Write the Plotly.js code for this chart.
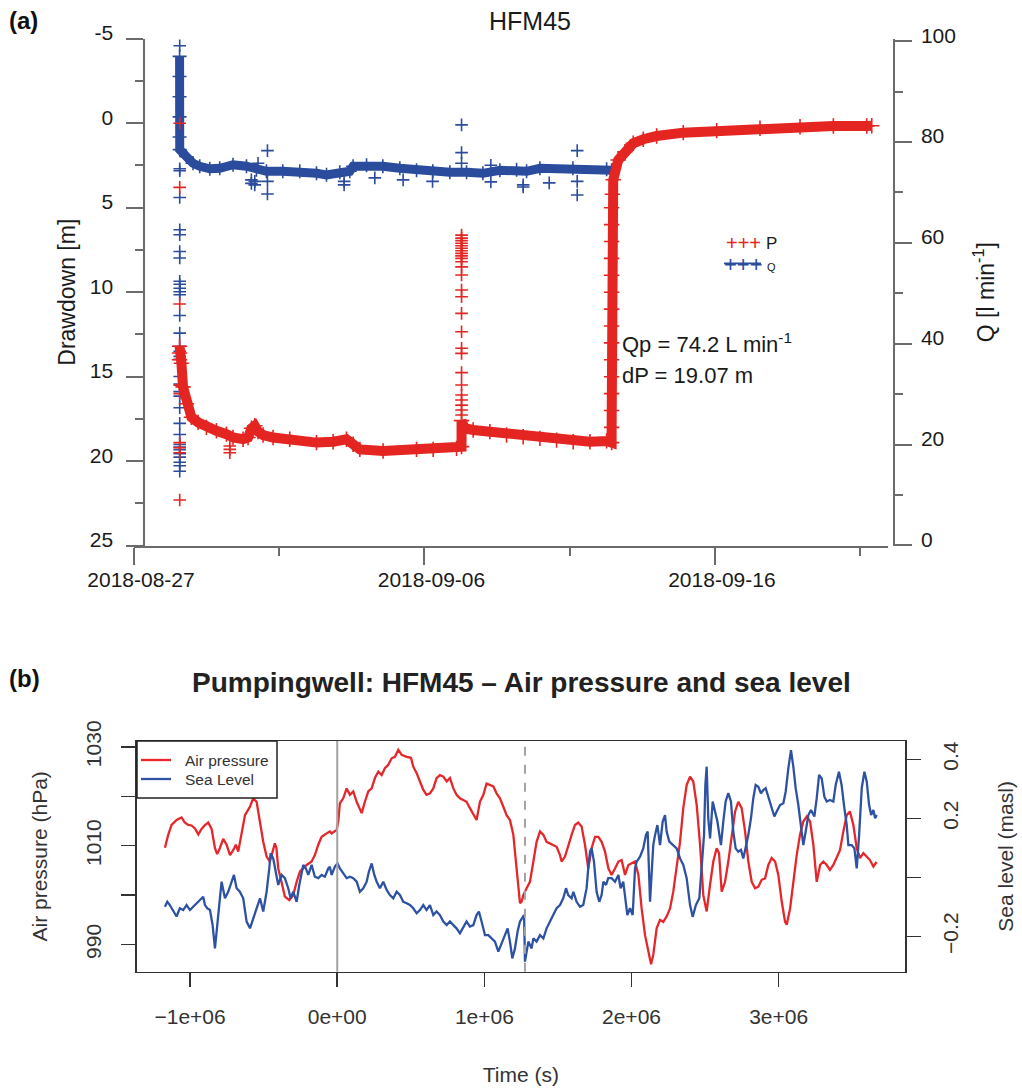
<!DOCTYPE html>
<html>
<head>
<meta charset="utf-8">
<script src="https://cdn.plot.ly/plotly-3.0.1.min.js"></script>
<style>html,body{margin:0;padding:0;background:#fff;}#chart{width:1022px;height:1090px;}</style>
</head>
<body>
<div id="chart"></div>
<script>
// ---------------- Panel (a): HFM45 drawdown (P) and flow (Q) ----------------
const majorDates = ['2018-08-27', '2018-09-06', '2018-09-16'];
const minorDates = ['2018-09-01', '2018-09-11', '2018-09-21'];
const drawdownTicks = [-5, 0, 5, 10, 15, 20, 25];
const drawdownTickText = ['-5', '0', '5', '10', '15', '20', '25'];
const flowTicks = [0, 20, 40, 60, 80, 100];

// Q (flow) main band
const qTime = ['2018-08-28 13:40','2018-08-28 13:40','2018-08-28 13:40','2018-08-28 13:40','2018-08-28 13:40','2018-08-28 13:47','2018-08-28 19:19','2018-08-29 00:46','2018-08-29 06:19','2018-08-29 14:36','2018-08-29 22:51','2018-08-30 09:50','2018-08-30 20:56','2018-08-31 05:11','2018-08-31 13:28','2018-09-01 02:56','2018-09-01 16:59','2018-09-02 06:48','2018-09-02 15:04','2018-09-03 02:04','2018-09-03 10:19','2018-09-03 13:03','2018-09-04 00:09','2018-09-04 13:36','2018-09-05 03:40','2018-09-05 17:28','2018-09-06 06:56','2018-09-06 21:00','2018-09-07 10:48','2018-09-08 00:17','2018-09-08 14:20','2018-09-09 04:08','2018-09-09 12:24','2018-09-09 23:24','2018-09-11 02:41','2018-09-12 06:33','2018-09-12 10:41'];
const qFlow = [97.0, 93.0, 89.0, 85.0, 81.0, 78.5, 77.1, 75.8, 75.2, 74.7, 74.8, 75.5, 75.2, 74.5, 74.2, 74.2, 74.2, 73.8, 73.5, 74.0, 74.2, 75.2, 75.4, 75.2, 74.8, 74.4, 74.2, 74.0, 74.0, 73.8, 74.4, 74.5, 74.2, 74.8, 74.8, 74.6, 74.4];

// Q outliers
const qOutTime = ['2018-08-28 13:47','2018-08-28 13:47','2018-08-28 13:47','2018-08-28 13:47','2018-08-28 13:47','2018-08-28 13:47','2018-08-28 13:47','2018-08-28 13:47','2018-08-28 13:47','2018-08-28 13:47','2018-08-28 13:47','2018-08-28 13:47','2018-08-28 13:47','2018-08-28 13:47','2018-08-28 13:47','2018-08-28 13:47','2018-08-28 13:47','2018-08-28 13:47','2018-08-28 13:47','2018-08-28 13:47','2018-08-28 13:47','2018-08-28 13:47','2018-08-28 13:47','2018-08-28 13:47','2018-08-28 13:47','2018-08-28 13:47','2018-08-28 13:47','2018-08-28 13:47','2018-08-28 13:47','2018-08-28 13:47','2018-08-28 13:47','2018-08-28 13:47','2018-08-28 13:47','2018-08-28 13:47',
  '2018-08-31 06:30','2018-08-31 03:47','2018-08-31 03:47','2018-08-31 01:00','2018-08-31 01:00','2018-08-31 14:17','2018-08-31 14:17','2018-08-31 14:17','2018-09-03 05:37','2018-09-03 05:37','2018-09-04 07:00','2018-09-05 06:23','2018-09-06 06:42','2018-09-07 06:40','2018-09-07 06:40','2018-09-07 06:40','2018-09-08 06:53','2018-09-08 06:53','2018-09-09 09:36','2018-09-09 09:36','2018-09-10 07:06','2018-09-11 06:14','2018-09-11 06:14','2018-09-11 06:14'];
const qOutFlow = [99.1, 74.7, 74.3, 69.0, 62.6, 61.6, 58.3, 57.0, 52.4, 51.8, 51.0, 50.3, 49.7, 45.6, 42.1, 39.5, 38.5, 37.5, 36.9, 33.5, 32.0, 30.5, 29.6, 27.3, 24.2, 22.0, 20.0, 19.5, 19.0, 18.2, 17.5, 16.5, 15.8, 14.7,
  75.8, 72.2, 71.5, 72.5, 71.8, 78.3, 72.2, 69.7, 72.2, 71.5, 72.9, 72.5, 72.2, 83.4, 77.9, 75.8, 75.4, 72.1, 71.5, 71.1, 71.9, 78.3, 72.2, 69.5];

// P (drawdown) main band
const pTime = ['2018-08-28 13:40','2018-08-28 13:40','2018-08-28 13:40','2018-08-28 15:11','2018-08-28 16:31','2018-08-28 19:19','2018-08-28 23:27','2018-08-29 04:55','2018-08-29 11:51','2018-08-29 20:07','2018-08-30 04:23','2018-08-30 09:50','2018-08-30 18:07','2018-08-30 22:15','2018-08-31 01:03','2018-08-31 03:47','2018-08-31 06:30','2018-08-31 10:39','2018-08-31 18:55','2018-09-01 08:43','2018-09-02 06:48','2018-09-02 20:31','2018-09-03 07:36','2018-09-03 13:03','2018-09-03 18:36','2018-09-04 13:51','2018-09-05 17:28','2018-09-06 07:12','2018-09-07 02:33','2018-09-07 06:40','2018-09-07 06:40','2018-09-07 09:24','2018-09-07 16:16','2018-09-08 06:04','2018-09-08 19:52','2018-09-09 09:36','2018-09-09 23:24','2018-09-10 13:12','2018-09-11 02:56','2018-09-11 16:45','2018-09-12 06:33','2018-09-12 10:41',
  '2018-09-12 10:41','2018-09-12 10:41','2018-09-12 10:41','2018-09-12 10:41','2018-09-12 10:41','2018-09-12 10:41','2018-09-12 10:41','2018-09-12 10:41','2018-09-12 10:41','2018-09-12 10:41','2018-09-12 10:41','2018-09-12 10:41','2018-09-12 10:41','2018-09-12 10:41',
  '2018-09-12 11:20','2018-09-12 12:00','2018-09-12 16:08','2018-09-12 21:40','2018-09-13 04:32','2018-09-13 12:49','2018-09-13 23:53','2018-09-14 21:52','2018-09-16 01:29','2018-09-17 13:17','2018-09-18 22:22','2018-09-20 01:54','2018-09-21 05:30','2018-09-21 09:37'];
const pDraw = [13.2, 13.6, 14.0, 14.2, 15.6, 16.6, 17.4, 17.7, 18.0, 18.2, 18.4, 18.6, 18.7, 18.6, 18.05, 17.9, 18.25, 18.45, 18.6, 18.7, 18.9, 18.85, 18.7, 19.0, 19.3, 19.4, 19.3, 19.3, 19.24, 19.14, 17.6, 18.05, 18.15, 18.25, 18.45, 18.55, 18.65, 18.75, 18.85, 18.85, 18.8, 18.9,
  18.0, 17.0, 16.0, 15.0, 14.0, 13.0, 12.0, 11.0, 10.0, 9.0, 8.0, 7.0, 6.0, 5.0,
  4.2, 3.35, 2.18, 1.69, 1.19, 0.95, 0.76, 0.56, 0.44, 0.30, 0.21, 0.17, 0.17, 0.15];

// P outliers (incl. spike on 2018-09-07)
const pOutTime = ['2018-08-28 13:47','2018-08-28 13:47','2018-08-28 13:47','2018-08-28 13:47','2018-08-28 13:47','2018-08-28 13:47','2018-08-28 13:47','2018-08-28 13:47','2018-08-28 13:47',
  '2018-08-30 07:08','2018-08-30 07:08','2018-08-30 07:08',
  '2018-09-07 06:40','2018-09-07 06:40','2018-09-07 06:40','2018-09-07 06:40','2018-09-07 06:40','2018-09-07 06:40','2018-09-07 06:40','2018-09-07 06:40','2018-09-07 06:40','2018-09-07 06:40','2018-09-07 06:40','2018-09-07 06:40','2018-09-07 06:40','2018-09-07 06:40','2018-09-07 06:40','2018-09-07 06:40','2018-09-07 06:40','2018-09-07 06:40','2018-09-07 06:40','2018-09-07 06:40','2018-09-07 06:40','2018-09-07 06:40','2018-09-07 06:40','2018-09-07 06:40','2018-09-07 06:40','2018-09-07 06:40'];
const pOutDraw = [0.0, 3.8, 10.7, 15.5, 16.0, 18.9, 19.2, 19.5, 22.3,
  19.1, 19.3, 19.5,
  6.62, 6.8, 6.95, 7.1, 7.25, 7.4, 7.55, 7.7, 7.85, 8.0, 8.2, 8.5, 8.98, 9.87, 10.27, 11.25, 12.34, 13.32, 13.62, 14.76, 15.49, 16.08, 16.38, 16.68, 16.97, 17.27];

// ---------------- Panel (b): air pressure and sea level ----------------
const timeTicks = [-1e6, 0, 1e6, 2e6, 3e6];
const timeTickText = ['\u22121e+06', '0e+00', '1e+06', '2e+06', '3e+06'];
const pressTicks = [990, 1010, 1030];
const seaTicks = [-0.2, 0.2, 0.4];
const seaTickText = ['\u22120.2', '0.2', '0.4'];
const eventTimes = [0, 1.276e6];
const legendNames = ['Air pressure', 'Sea Level'];

const airTime = [-1.171e6,-1.149e6,-1.126e6,-1.092e6,-1.058e6,-1.036e6,-1.013e6,-0.990e6,-0.967e6,-0.944e6,-0.922e6,-0.899e6,-0.877e6,-0.854e6,-0.831e6,-0.816e6,-0.798e6,-0.775e6,-0.752e6,-0.729e6,-0.707e6,-0.689e6,-0.673e6,-0.650e6,-0.627e6,-0.593e6,-0.571e6,-0.548e6,-0.525e6,-0.503e6,-0.480e6,-0.458e6,-0.439e6,-0.424e6,-0.413e6,-0.401e6,-0.379e6,-0.356e6,-0.326e6,-0.299e6,-0.276e6,-0.253e6,-0.231e6,-0.208e6,-0.174e6,-0.152e6,-0.129e6,-0.106e6,-0.072e6,-0.050e6,-0.038e6,-0.004e6,
  0.007e6,0.018e6,0.041e6,0.064e6,0.086e6,0.109e6,0.132e6,0.166e6,0.188e6,0.211e6,0.234e6,0.256e6,0.279e6,0.302e6,0.324e6,0.347e6,0.370e6,0.392e6,0.415e6,0.438e6,0.472e6,0.501e6,0.517e6,0.540e6,0.562e6,0.585e6,0.607e6,0.630e6,0.653e6,0.675e6,0.698e6,0.721e6,0.744e6,0.766e6,0.789e6,0.811e6,0.834e6,0.857e6,0.879e6,0.902e6,0.925e6,0.947e6,0.970e6,0.993e6,1.015e6,1.038e6,1.061e6,1.083e6,1.106e6,1.129e6,1.151e6,1.174e6,1.197e6,1.219e6,1.231e6,1.242e6,1.253e6,
  1.265e6,1.287e6,1.310e6,1.333e6,1.355e6,1.378e6,1.401e6,1.423e6,1.446e6,1.469e6,1.491e6,1.514e6,1.525e6,1.548e6,1.570e6,1.593e6,1.616e6,1.638e6,1.661e6,1.684e6,1.706e6,1.729e6,1.752e6,1.775e6,1.797e6,1.820e6,1.843e6,1.865e6,1.888e6,1.911e6,1.933e6,1.956e6,1.979e6,2.001e6,2.024e6,2.047e6,2.069e6,2.092e6,2.115e6,2.133e6,2.148e6,2.171e6,2.194e6,2.216e6,2.239e6,2.262e6,2.284e6,2.307e6,2.330e6,2.352e6,2.375e6,2.398e6,2.420e6,2.443e6,2.466e6,2.488e6,2.511e6,2.534e6,2.556e6,2.579e6,2.595e6,
  2.613e6,2.636e6,2.658e6,2.681e6,2.704e6,2.726e6,2.749e6,2.772e6,2.794e6,2.817e6,2.840e6,2.862e6,2.885e6,2.908e6,2.930e6,2.953e6,2.976e6,2.998e6,3.021e6,3.044e6,3.055e6,3.078e6,3.100e6,3.123e6,3.145e6,3.168e6,3.191e6,3.214e6,3.236e6,3.259e6,3.282e6,3.304e6,3.327e6,3.349e6,3.372e6,3.395e6,3.417e6,3.440e6,3.463e6,3.485e6,3.508e6,3.531e6,3.553e6,3.576e6,3.599e6,3.621e6,3.644e6,3.666e6];
const airPressure = [1009.6,1012.2,1014.2,1015.2,1015.7,1014.7,1014.2,1014.1,1013.5,1012.3,1013.4,1014.2,1014.7,1013.4,1009.5,1008.3,1009.5,1011.4,1010.2,1008.1,1009.1,1010.2,1008.8,1012.2,1016.2,1017.9,1019.6,1018.9,1014.9,1010.8,1007.8,1006.8,1008.8,1010.5,1009.5,1005.4,1002.7,999.7,999.0,1000.0,1002.7,1004.8,1005.4,1006.1,1006.8,1008.1,1010.2,1011.8,1012.5,1012.9,1012.5,1013.2,
  1014.9,1018.6,1019.6,1021.6,1020.3,1021.0,1018.9,1016.6,1018.9,1021.0,1021.6,1023.7,1025.0,1024.3,1025.7,1026.4,1027.7,1028.0,1029.4,1028.4,1028.0,1027.8,1026.0,1024.7,1023.0,1021.3,1020.3,1020.6,1021.6,1023.7,1024.3,1024.0,1023.0,1023.7,1021.6,1020.3,1019.6,1019.3,1018.9,1017.6,1016.2,1015.2,1018.9,1020.3,1022.6,1022.3,1022.0,1020.6,1019.6,1017.9,1016.2,1015.2,1012.2,1005.4,1001.4,998.4,998.7,
  1000.0,1001.4,1002.7,1006.8,1010.8,1012.9,1012.2,1010.8,1010.5,1010.2,1009.8,1008.1,1006.8,1007.8,1010.2,1012.2,1014.2,1014.7,1013.9,1010.2,1005.4,1009.5,1011.8,1011.8,1010.8,1008.8,1005.4,1004.1,1005.4,1006.8,1007.1,1004.1,1006.1,1006.5,1006.8,1004.1,997.3,991.9,988.6,986.0,987.9,993.3,995.0,994.6,995.7,997.3,1000.7,1005.4,1010.8,1017.6,1022.3,1024.0,1023.0,1018.3,1010.2,1000.0,996.7,1002.1,1006.8,1009.5,1008.5,
  1000.7,1002.7,1006.8,1012.2,1016.9,1018.9,1017.6,1012.9,1006.8,1002.7,1001.4,1001.7,1003.1,1003.4,1006.1,1007.5,1006.8,1004.1,998.7,994.6,994.0,997.3,1002.7,1008.1,1012.2,1014.9,1015.9,1014.9,1010.2,1002.7,1006.1,1006.8,1006.1,1005.1,1006.1,1007.5,1009.1,1012.9,1016.2,1016.9,1014.2,1009.5,1007.5,1008.5,1007.8,1007.1,1005.8,1006.7];

const seaTime = [-1.171e6,-1.155e6,-1.138e6,-1.115e6,-1.092e6,-1.070e6,-1.047e6,-1.024e6,-1.001e6,-0.979e6,-0.956e6,-0.933e6,-0.911e6,-0.899e6,-0.884e6,-0.865e6,-0.847e6,-0.831e6,-0.816e6,-0.802e6,-0.786e6,-0.763e6,-0.741e6,-0.718e6,-0.702e6,-0.684e6,-0.662e6,-0.639e6,-0.616e6,-0.593e6,-0.571e6,-0.548e6,-0.525e6,-0.503e6,-0.480e6,-0.462e6,-0.453e6,-0.435e6,-0.417e6,-0.401e6,-0.378e6,-0.356e6,-0.333e6,-0.317e6,-0.299e6,-0.276e6,-0.258e6,-0.242e6,-0.231e6,-0.213e6,-0.197e6,-0.174e6,-0.152e6,-0.129e6,-0.106e6,-0.084e6,-0.061e6,-0.050e6,-0.038e6,-0.016e6,
  0.002e6,0.018e6,0.041e6,0.064e6,0.086e6,0.109e6,0.132e6,0.154e6,0.177e6,0.200e6,0.215e6,0.234e6,0.252e6,0.268e6,0.290e6,0.313e6,0.336e6,0.358e6,0.381e6,0.404e6,0.426e6,0.449e6,0.472e6,0.494e6,0.517e6,0.540e6,0.562e6,0.585e6,0.607e6,0.630e6,0.653e6,0.675e6,0.698e6,0.721e6,0.744e6,0.766e6,0.789e6,0.811e6,0.834e6,0.857e6,0.879e6,0.902e6,0.925e6,0.947e6,0.963e6,0.981e6,1.004e6,1.027e6,1.049e6,1.072e6,1.095e6,1.117e6,1.140e6,1.158e6,1.174e6,1.190e6,1.208e6,1.226e6,1.242e6,1.258e6,1.270e6,
  1.276e6,1.299e6,1.321e6,1.333e6,1.355e6,1.378e6,1.401e6,1.423e6,1.446e6,1.469e6,1.491e6,1.514e6,1.536e6,1.555e6,1.570e6,1.593e6,1.605e6,1.627e6,1.650e6,1.672e6,1.695e6,1.706e6,1.718e6,1.729e6,1.745e6,1.763e6,1.781e6,1.797e6,1.809e6,1.827e6,1.842e6,1.865e6,1.888e6,1.911e6,1.926e6,1.944e6,1.962e6,1.972e6,1.990e6,2.008e6,2.024e6,2.035e6,2.058e6,2.080e6,2.098e6,2.110e6,2.126e6,2.137e6,2.148e6,2.160e6,2.176e6,2.194e6,2.212e6,2.228e6,2.239e6,2.257e6,2.280e6,2.307e6,2.330e6,2.352e6,2.375e6,2.398e6,2.416e6,2.438e6,2.461e6,2.477e6,2.493e6,2.502e6,2.511e6,2.522e6,2.534e6,2.552e6,2.568e6,2.584e6,2.601e6,
  2.608e6,2.624e6,2.640e6,2.658e6,2.676e6,2.692e6,2.708e6,2.726e6,2.744e6,2.760e6,2.776e6,2.794e6,2.812e6,2.828e6,2.844e6,2.862e6,2.880e6,2.896e6,2.912e6,2.930e6,2.953e6,2.971e6,2.987e6,3.010e6,3.032e6,3.048e6,3.066e6,3.084e6,3.100e6,3.116e6,3.134e6,3.152e6,3.168e6,3.184e6,3.202e6,3.220e6,3.243e6,3.259e6,3.275e6,3.293e6,3.311e6,3.327e6,3.349e6,3.372e6,3.388e6,3.410e6,3.428e6,3.447e6,3.463e6,3.474e6,3.497e6,3.515e6,3.531e6,3.547e6,3.565e6,3.583e6,3.599e6,3.615e6,3.629e6,3.644e6,3.656e6,3.667e6];
const seaLevel = [-0.100,-0.083,-0.094,-0.116,-0.133,-0.105,-0.111,-0.094,-0.111,-0.100,-0.088,-0.077,-0.066,-0.094,-0.105,-0.111,-0.162,-0.241,-0.150,-0.094,-0.015,-0.071,-0.049,-0.015,0.008,-0.037,-0.049,-0.071,-0.150,-0.173,-0.139,-0.105,-0.071,-0.116,-0.049,0.030,0.081,0.064,0.019,-0.026,0.008,-0.003,-0.037,-0.071,-0.049,-0.083,-0.026,0.019,0.042,0.030,0.008,0.042,0.002,-0.003,0.008,0.002,0.030,0.036,0.008,0.036,
  0.047,0.030,0.013,-0.003,0.002,-0.003,-0.015,-0.049,-0.037,-0.015,0.019,0.047,0.008,-0.015,-0.037,-0.015,-0.043,-0.060,-0.071,-0.049,-0.060,-0.083,-0.088,-0.094,-0.105,-0.122,-0.111,-0.094,-0.111,-0.094,-0.128,-0.116,-0.128,-0.150,-0.162,-0.150,-0.162,-0.173,-0.190,-0.167,-0.150,-0.167,-0.162,-0.128,-0.116,-0.150,-0.196,-0.196,-0.207,-0.218,-0.252,-0.224,-0.196,-0.173,-0.218,-0.275,-0.241,-0.184,-0.150,-0.139,-0.128,
  -0.286,-0.218,-0.241,-0.207,-0.218,-0.196,-0.207,-0.173,-0.150,-0.128,-0.105,-0.094,-0.071,-0.037,-0.060,-0.071,-0.049,-0.083,-0.100,-0.094,-0.037,0.030,0.087,0.098,0.053,-0.049,-0.083,-0.060,-0.015,-0.026,-0.003,-0.003,-0.015,0.008,-0.037,-0.015,-0.083,-0.128,-0.105,-0.128,0.030,0.053,0.070,0.098,0.143,0.155,-0.083,0.030,0.109,0.143,0.177,0.109,0.189,0.211,0.155,0.121,0.109,0.098,0.064,0.042,-0.003,-0.094,-0.134,-0.094,-0.071,0.030,0.143,0.313,0.375,0.200,0.132,0.257,0.223,0.189,0.132,
  0.109,0.189,0.257,0.285,0.257,0.155,0.098,0.087,0.093,0.064,0.098,0.143,0.200,0.268,0.313,0.307,0.285,0.296,0.302,0.273,0.240,0.206,0.223,0.245,0.251,0.290,0.369,0.431,0.375,0.302,0.245,0.177,0.109,0.155,0.211,0.228,0.206,0.268,0.347,0.335,0.273,0.257,0.262,0.257,0.313,0.358,0.313,0.234,0.177,0.109,0.109,0.098,0.030,0.143,0.302,0.358,0.324,0.245,0.211,0.228,0.200,0.211];

// ---------------- styling ----------------
const FONT = 'Liberation Sans, Arial, Helvetica, sans-serif';
const RED_A = '#e42521';
const BLUE_A = '#2b4c9c';
const RED_B = '#e5262a';
const BLUE_B = '#2e52a3';
const AXIS_A = '#6b6b6b';
const AXIS_B = '#333333';
const W = 1022, H = 1090;
const px = v => v / W;
const py = v => 1 - v / H;

const crossMarker = (c, s) => ({symbol: 'cross-thin', size: s, line: {color: c, width: 1.6}});

const traces = [
  {x: qTime, y: qFlow, xaxis: 'x', yaxis: 'y', mode: 'lines+markers', line: {color: BLUE_A, width: 9}, marker: crossMarker(BLUE_A, 10), showlegend: false, name: 'Q'},
  {x: qOutTime, y: qOutFlow, xaxis: 'x', yaxis: 'y', mode: 'markers', marker: crossMarker(BLUE_A, 9), showlegend: false, name: 'Q'},
  {x: pTime, y: pDraw, xaxis: 'x', yaxis: 'y2', mode: 'lines+markers', line: {color: RED_A, width: 10}, marker: crossMarker(RED_A, 11), showlegend: false, name: 'P'},
  {x: pOutTime, y: pOutDraw, xaxis: 'x', yaxis: 'y2', mode: 'markers', marker: crossMarker(RED_A, 9), showlegend: false, name: 'P'},
  {x: airTime, y: airPressure, xaxis: 'x2', yaxis: 'y3', mode: 'lines', line: {color: RED_B, width: 2.3}, name: legendNames[0], showlegend: false},
  {x: seaTime, y: seaLevel, xaxis: 'x2', yaxis: 'y4', mode: 'lines', line: {color: BLUE_B, width: 2.3}, name: legendNames[1], showlegend: false}
];

const axA = {
  showgrid: false, zeroline: false, showline: true, linecolor: AXIS_A, linewidth: 2,
  ticks: 'outside', ticklen: 17, tickwidth: 2, tickcolor: AXIS_A,
  tickfont: {family: FONT, size: 21, color: '#1a1a1a'}
};
const axB = {
  showgrid: false, zeroline: false, showline: true, linecolor: AXIS_B, linewidth: 1.5,
  ticks: 'outside', ticklen: 14, tickwidth: 1.5, tickcolor: AXIS_B,
  tickfont: {family: FONT, size: 21, color: '#333'}
};

const legendBox = [
  {type: 'rect', xref: 'paper', yref: 'paper', x0: px(137), x1: px(277), y0: py(798), y1: py(741), fillcolor: '#ffffff', line: {color: '#222', width: 1.5}},
  {type: 'line', xref: 'paper', yref: 'paper', x0: px(141), x1: px(171), y0: py(760), y1: py(760), line: {color: RED_B, width: 2.3}},
  {type: 'line', xref: 'paper', yref: 'paper', x0: px(141), x1: px(171), y0: py(779), y1: py(779), line: {color: BLUE_B, width: 2.3}}
];

const layout = {
  width: W, height: H,
  margin: {l: 0, r: 0, t: 0, b: 0},
  paper_bgcolor: '#ffffff', plot_bgcolor: 'rgba(0,0,0,0)',
  font: {family: FONT, color: '#1a1a1a'},
  showlegend: false,
  title: {text: 'HFM45', x: px(530), y: py(21), xanchor: 'center', yanchor: 'middle', xref: 'paper', yref: 'container', font: {family: FONT, size: 25, color: '#1a1a1a'}},
  xaxis: Object.assign({}, axA, {
    domain: [px(134), px(888)], anchor: 'y', type: 'date',
    range: ['2018-08-27 00:00', '2018-09-21 23:03'],
    tickmode: 'array', tickvals: majorDates, ticktext: majorDates,
    ticklabelshift: 7, ticklabelstandoff: -3,
    minor: {tickmode: 'array', tickvals: minorDates, ticks: 'outside', ticklen: 8, tickwidth: 2, tickcolor: AXIS_A, showgrid: false}
  }),
  yaxis: Object.assign({}, axA, {
    domain: [py(545.7), py(38.7)], anchor: 'free', position: px(893.7), side: 'right',
    range: [-0.06, 100.5], tickmode: 'array', tickvals: flowTicks,
    ticklabelshift: -6, ticklabelstandoff: 5,
    minor: {dtick: 10, tick0: 0, ticks: 'outside', ticklen: 8, tickwidth: 2, tickcolor: AXIS_A, showgrid: false},
    title: {text: 'Q [l min<sup>-1</sup>]', font: {family: FONT, size: 23, color: '#1a1a1a'}, standoff: 22}
  }),
  yaxis2: Object.assign({}, axA, {
    overlaying: 'y', anchor: 'free', position: px(144.3), side: 'left',
    range: [25, -5], tickmode: 'array', tickvals: drawdownTicks, ticktext: drawdownTickText,
    ticklabelshift: 6, ticklabelstandoff: 9,
    minor: {dtick: 2.5, tick0: 0, ticks: 'outside', ticklen: 8, tickwidth: 2, tickcolor: AXIS_A, showgrid: false},
    title: {text: 'Drawdown [m]', font: {family: FONT, size: 23, color: '#1a1a1a'}, standoff: 7}
  }),
  xaxis2: Object.assign({}, axB, {
    domain: [px(136.7), px(905)], anchor: 'y3', range: [-1.363e6, 3.859e6],
    tickmode: 'array', tickvals: timeTicks, ticktext: timeTickText, mirror: true,
    ticklabelstandoff: 12,
    title: {text: 'Time (s)', font: {family: FONT, size: 21, color: '#333'}, standoff: 40}
  }),
  yaxis3: Object.assign({}, axB, {
    domain: [py(971.7), py(741)], anchor: 'x2', range: [984.5, 1031.2],
    tickmode: 'array', tickvals: pressTicks, tickangle: -90,
    minor: {dtick: 10, tick0: 990, ticks: 'outside', ticklen: 14, tickwidth: 1.5, tickcolor: AXIS_B, showgrid: false},
    ticklabelstandoff: 12,
    title: {text: 'Air pressure (hPa)', font: {family: FONT, size: 21, color: '#333'}, standoff: 28}
  }),
  yaxis4: Object.assign({}, axB, {
    overlaying: 'y3', anchor: 'x2', side: 'right', range: [-0.320, 0.462],
    tickmode: 'array', tickvals: seaTicks, ticktext: seaTickText, tickangle: -90,
    minor: {dtick: 0.2, tick0: 0, ticks: 'outside', ticklen: 14, tickwidth: 1.5, tickcolor: AXIS_B, showgrid: false},
    ticklabelstandoff: 12,
    title: {text: 'Sea level (masl)', font: {family: FONT, size: 21, color: '#333'}, standoff: 37}
  }),
  shapes: eventTimes.map((t, i) => ({
    type: 'line', xref: 'x2', yref: 'y3 domain', x0: t, x1: t, y0: 0, y1: 1,
    line: {color: '#a3a3a3', width: 2, dash: i === 0 ? 'solid' : 'dash'}
  })).concat([
    {type: 'line', xref: 'paper', yref: 'paper', x0: px(724), x1: px(761), y0: py(263.3), y1: py(263.3), line: {color: BLUE_A, width: 1.8}}
  ]).concat(legendBox),
  annotations: [
    {text: '<b>(a)</b>', x: px(7), y: py(21), xref: 'paper', yref: 'paper', xanchor: 'left', yanchor: 'middle', showarrow: false, font: {family: FONT, size: 24, color: '#111'}},
    {text: '<b>(b)</b>', x: px(7), y: py(678), xref: 'paper', yref: 'paper', xanchor: 'left', yanchor: 'middle', showarrow: false, font: {family: FONT, size: 24, color: '#111'}},
    {text: '<b>Pumpingwell: HFM45 \u2013 Air pressure and sea level</b>', x: px(521), y: py(682), xref: 'paper', yref: 'paper', xanchor: 'center', yanchor: 'middle', showarrow: false, font: {family: FONT, size: 28, color: '#222'}},
    {text: 'Qp = 74.2 L min<sup>-1</sup>', x: px(620), y: py(343), xref: 'paper', yref: 'paper', xanchor: 'left', yanchor: 'middle', showarrow: false, font: {family: FONT, size: 22, color: '#1a1a1a'}},
    {text: 'dP = 19.07 m', x: px(620), y: py(375), xref: 'paper', yref: 'paper', xanchor: 'left', yanchor: 'middle', showarrow: false, font: {family: FONT, size: 22, color: '#1a1a1a'}},
    {text: '+++', x: px(743), y: py(243), xref: 'paper', yref: 'paper', xanchor: 'center', yanchor: 'middle', showarrow: false, font: {family: FONT, size: 20, color: RED_A}},
    {text: 'P', x: px(771.5), y: py(243), xref: 'paper', yref: 'paper', xanchor: 'center', yanchor: 'middle', showarrow: false, font: {family: FONT, size: 17, color: '#1a1a1a'}},
    {text: '+++', x: px(743), y: py(264), xref: 'paper', yref: 'paper', xanchor: 'center', yanchor: 'middle', showarrow: false, font: {family: FONT, size: 22, color: BLUE_A}},
    {text: 'Q', x: px(771.5), y: py(267), xref: 'paper', yref: 'paper', xanchor: 'center', yanchor: 'middle', showarrow: false, font: {family: FONT, size: 11, color: '#1a1a1a'}},
    {text: legendNames[0], x: px(183), y: py(760), xref: 'paper', yref: 'paper', xanchor: 'left', yanchor: 'middle', showarrow: false, font: {family: FONT, size: 15.5, color: '#333'}},
    {text: legendNames[1], x: px(183), y: py(779), xref: 'paper', yref: 'paper', xanchor: 'left', yanchor: 'middle', showarrow: false, font: {family: FONT, size: 15.5, color: '#333'}}
  ]
};

Plotly.newPlot('chart', traces, layout, {displayModeBar: false, staticPlot: true});
</script>
</body>
</html>
